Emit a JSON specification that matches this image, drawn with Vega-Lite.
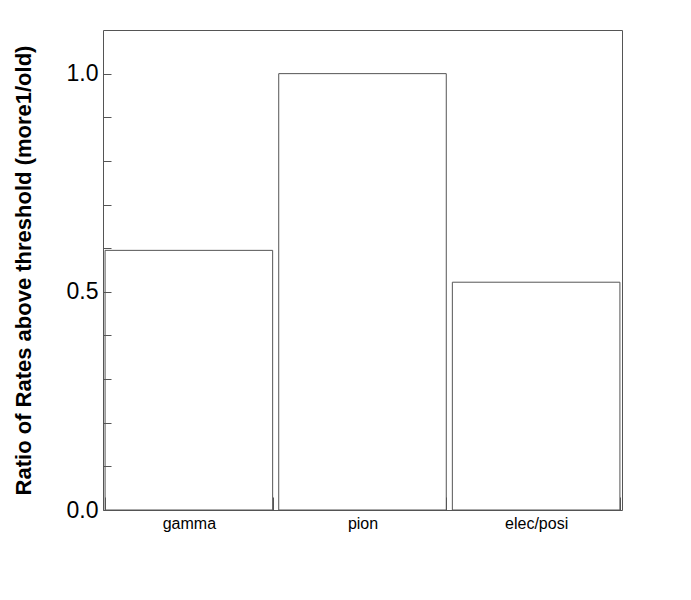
{
  "$schema": "https://vega.github.io/schema/vega-lite/v6.json",
  "description": "Ratio of rates above threshold per particle type",
  "width": 519,
  "height": 480,
  "autosize": {"type": "none"},
  "padding": {"left": 103, "top": 30, "right": 69, "bottom": 90},
  "background": "white",
  "config": {
    "font": "Liberation Sans",
    "view": {"stroke": "#555", "strokeWidth": 1},
    "axis": {"grid": false, "domain": false, "tickColor": "#555", "labelColor": "black", "titleColor": "black"}
  },
  "data": {
    "values": [
      {"particle": "gamma", "ratio": 0.595},
      {"particle": "pion", "ratio": 1.0},
      {"particle": "elec/posi", "ratio": 0.522}
    ]
  },
  "resolve": {"axis": {"y": "independent"}},
  "layer": [
    {
      "mark": {"type": "bar", "fill": "white", "stroke": "#555", "strokeWidth": 1},
      "encoding": {
        "x": {
          "field": "particle",
          "type": "nominal",
          "sort": null,
          "scale": {"paddingInner": 0.035, "paddingOuter": 0.012},
          "axis": {
            "title": null,
            "zindex": 2,
            "tickBand": "extent",
            "tickSize": -13,
            "labelPadding": 18,
            "labelAngle": 0,
            "labelFontSize": 16,
            "labelBaseline": "top",
            "encode": {"labels": {"update": {"dy": {"signal": "datum.value === 'gamma' ? -3 : 0"}}}}
          }
        },
        "y": {
          "field": "ratio",
          "type": "quantitative",
          "scale": {"domain": [0, 1.1], "nice": false},
          "axis": {
            "orient": "left",
            "zindex": 2,
            "values": [0.00001, 0.1, 0.2, 0.3, 0.4, 0.50001, 0.6, 0.7, 0.8, 0.9, 1.00001],
            "tickSize": -8,
            "labels": false,
            "title": null,
            "encode": {"ticks": {"update": {"x2": {"signal": "abs(datum.value * 2 - round(datum.value * 2)) < 0.001 ? 17 : 8"}}}}
          }
        }
      }
    },
    {
      "mark": {"type": "bar", "opacity": 0},
      "encoding": {
        "x": {"field": "particle", "type": "nominal", "sort": null},
        "y": {
          "field": "ratio",
          "type": "quantitative",
          "axis": {
            "orient": "left",
            "values": [0.0, 0.5, 1.0],
            "format": ".1f",
            "ticks": false,
            "labelPadding": 5,
            "labelFontSize": 23,
            "title": "Ratio of Rates above threshold (more1/old)",
            "titleFontSize": 22,
            "titleFontWeight": "bold",
            "titleX": -80,
            "titleY": 240,
            "titleBaseline": "middle"
          }
        }
      }
    }
  ]
}
